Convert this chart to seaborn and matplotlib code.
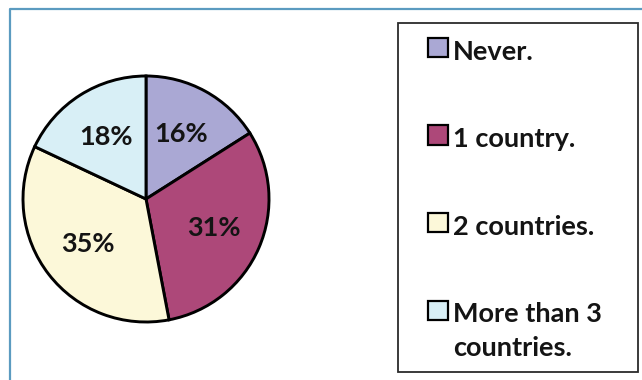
import matplotlib
matplotlib.use("Agg")
import matplotlib.pyplot as plt
from matplotlib.patches import Rectangle
from matplotlib.lines import Line2D
import seaborn as sns

# Survey answers: how many countries visited
categories = ["Never.", "1 country.", "2 countries.", "More than 3\ncountries."]
shares = [16, 31, 35, 18]
colors = ["#aaa8d4", "#ad4879", "#fcf8d9", "#d8eff6"]

sns.set_theme(style="white")
plt.rcParams["font.family"] = ["Lato", "DejaVu Sans"]

W, H = 642, 380
fig = plt.figure(figsize=(W / 100, H / 100), dpi=100)
fig.patch.set_facecolor("white")


def fx(px):
    return px / W


def fy(py):
    return 1 - py / H


# pie chart, clockwise from 12 o'clock
R, cx, cy, pad = 123, 146, 199, 8
ax = fig.add_axes([fx(cx - R - pad), fy(cy + R + pad),
                   2 * (R + pad) / W, 2 * (R + pad) / H])
ax.pie(shares, colors=colors, startangle=90, counterclock=False,
       autopct=lambda p: f"{p:.0f}%", pctdistance=0.6, radius=1,
       wedgeprops=dict(edgecolor="black", linewidth=2.1),
       textprops=dict(fontsize=19.5, fontweight="bold", color="#141414"))
lim = (R + pad) / R
ax.set_xlim(-lim, lim)
ax.set_ylim(-lim, lim)
ax.axis("off")

# outer frame (top and left edges)
fig.add_artist(Line2D([fx(10), fx(10), fx(642)], [fy(380), fy(9), fy(9)],
                      transform=fig.transFigure, color="#5b9bc0", lw=1.6))

# legend box
fig.add_artist(Rectangle((fx(398), fy(372)), (638 - 398) / W, (372 - 23) / H,
                         transform=fig.transFigure, fill=False,
                         edgecolor="#2b2b2b", lw=1.3))

for i, (label, col) in enumerate(zip(categories, colors)):
    base = 60 + 87.5 * i
    fig.add_artist(Rectangle((fx(428), fy(base - 3)), 20 / W, 19 / H,
                             transform=fig.transFigure, facecolor=col,
                             edgecolor="black", lw=1.6))
    for j, line in enumerate(label.split("\n")):
        fig.text(fx(453), fy(base + 33 * j), line, fontsize=19.5,
                 fontweight="bold", color="#141414", ha="left", va="baseline")

fig.savefig("out.png", dpi=100, facecolor="white")
